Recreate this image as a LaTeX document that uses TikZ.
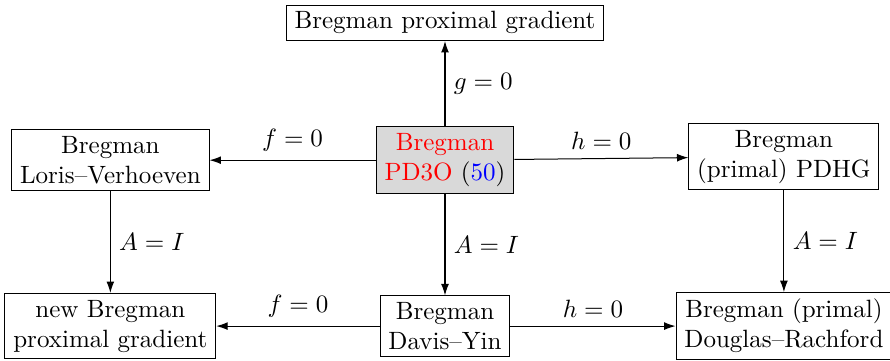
\documentclass[tikz,border=0pt]{standalone}
\usepackage{amsmath,amssymb}
\usepackage{xcolor}
\usepackage{tikz}
\usetikzlibrary{arrows.meta,positioning}

\begin{document}
\begin{tikzpicture}[box/.style={draw, align=center, inner ysep=2.6pt}, lbl/.style={font=\normalsize}, >={Latex[length=1.6mm,width=1.1mm]}]
	\useasboundingbox (-6.25,-2.815) rectangle (6.25,2.25);
	\node[box, fill=black!15] (pd3o) at (0,0) {\textcolor{red}{Bregman}\\\textcolor{red}{PD3O} (\textcolor{blue}{50})};
	\node[box] (bpg) at (0,1.93) {Bregman proximal gradient};
	\node[box] (lv) at (-4.70,0) {Bregman\\Loris--Verhoeven};
	\node[box] (pdhg) at (4.76,0.05) {Bregman\\(primal) PDHG};
	\node[box] (nbpg) at (-4.70,-2.33) {new Bregman\\proximal gradient};
	\node[box] (dy) at (0,-2.33) {Bregman\\Davis--Yin};
	\node[box] (dr) at (4.76,-2.33) {Bregman (primal)\\Douglas--Rachford};

	\draw[->] (pd3o) -- node[lbl, right] {$g=0$} (bpg);
	\draw[->] (pd3o) -- node[lbl, above] {$f=0$} (lv);
	\draw[->] (pd3o) -- node[lbl, above] {$h=0$} (pdhg);
	\draw[->] (pd3o) -- node[lbl, right] {$A=I$} (dy);
	\draw[->] (lv) -- node[lbl, right] {$A=I$} (nbpg);
	\draw[->] (pdhg) -- node[lbl, right] {$A=I$} (dr);
	\draw[->] (dy) -- node[lbl, above] {$f=0$} (nbpg);
	\draw[->] (dy) -- node[lbl, above] {$h=0$} (dr);
\end{tikzpicture}
\end{document}
